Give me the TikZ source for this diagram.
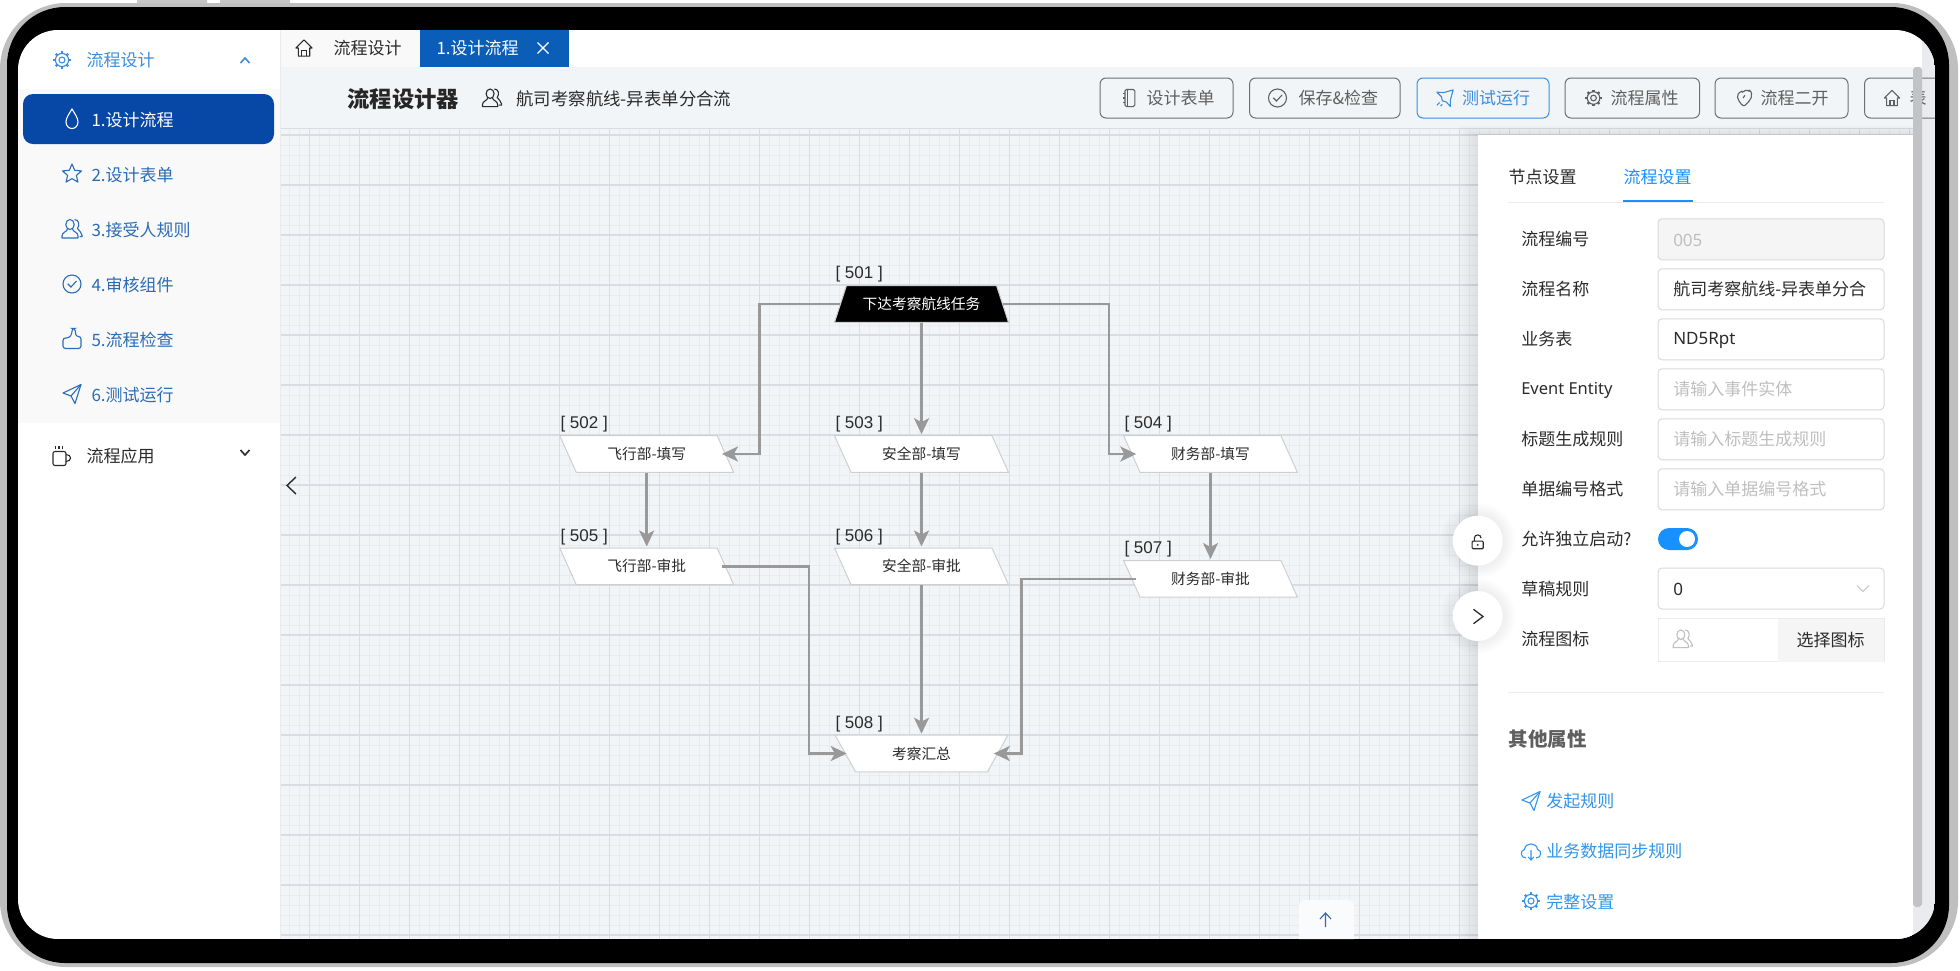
\documentclass[tikz,border=0pt]{standalone}
\usepackage{fontspec}
\usepackage{tikz}
\usetikzlibrary{shapes.geometric,arrows.meta}
\setmainfont{Noto Sans CJK SC}
\newfontfamily\tagfont{Liberation Sans}
\newfontfamily\latinfont{Noto Sans}
\definecolor{canvasbg}{HTML}{F2F5F7}
\definecolor{gridmajor}{HTML}{D9DDE1}
\definecolor{gridminor}{HTML}{E9ECEF}
\definecolor{flowgrey}{HTML}{999999}
\definecolor{nodeline}{HTML}{CDD0D3}
\definecolor{menublue}{HTML}{2B6CB5}
\definecolor{headblue}{HTML}{3B8DE0}
\definecolor{activeblue}{HTML}{0747A6}
\definecolor{tabblue}{HTML}{0A5EB8}
\definecolor{antblue}{HTML}{1890FF}
\definecolor{linkblue}{HTML}{3296EA}
\definecolor{inkdark}{HTML}{2B2B2B}
\definecolor{inkgrey}{HTML}{5F5F5F}
\definecolor{holdgrey}{HTML}{BFBFBF}
\definecolor{fieldline}{HTML}{D9D9D9}
\definecolor{menubg}{HTML}{F9F9FA}
\definecolor{thumbgrey}{HTML}{C1C3C6}
\definecolor{trackgrey}{HTML}{E9EBEE}
\tikzset{
	pics/gearicon/.style={code={
		\draw (0,0) circle (3);
		\draw (0,0) circle (6.6);
		\foreach \a in {0,45,...,315} \draw[line width=2.2pt] (\a:6.6) -- (\a:8.8);
	}},
	pics/dropicon/.style={code={
		\draw (0,-10) .. controls (3,-5) and (6,-1) .. (6,3) .. controls (6,7) and (3,9.5) .. (0,9.5) .. controls (-3,9.5) and (-6,7) .. (-6,3) .. controls (-6,-1) and (-3,-5) .. (0,-10) -- cycle;
	}},
	pics/staricon/.style={code={
		\draw[line join=round] (-90:10)--(-54:4.6)--(-18:10)--(18:4.6)--(54:10)--(90:4.6)--(126:10)--(162:4.6)--(198:10)--(234:4.6)--cycle;
	}},
	pics/usersicon/.style={code={
		\draw (-2,-4.5) ellipse (4.2 and 5);
		\draw[line join=round] (-4.5,0) .. controls (-5,3) and (-10,3) .. (-10,7) -- (-10,9) -- (6,9) -- (6,7) .. controls (6,3) and (1,3) .. (.5,0);
		\draw (2.5,-9.5) .. controls (7,-9.5) and (8,-4) .. (5.5,-.5) .. controls (6.5,2.5) and (10,2.5) .. (10,6) -- (10,7.5) -- (7.5,7.5);
	}},
	pics/checkicon/.style={code={
		\draw (0,0) circle (9);
		\draw (-4.2,-.2) -- (-1,3) -- (4.5,-3);
	}},
	pics/thumbicon/.style={code={
		\draw[rounded corners=2.5pt] (-9,9.5) -- (-9,-1) -- (-3,-1) -- (0,-5) -- (0,-10.5) -- (3,-10.5) -- (4,-2.5) -- (9,-2.5) -- (9,9.5) -- cycle;
	}},
	pics/sendicon/.style={code={
		\draw[line join=round] (-9,-1) -- (9,-9.5) -- (3,9.5) -- (-1,2) -- cycle;
		\draw (-1,2) -- (9,-9.5);
	}},
	pics/cupicon/.style={code={
		\draw[rounded corners=2pt] (-9,-4.5) rectangle (4,9.5);
		\draw (4,-1.5) .. controls (10,-1.5) and (10,5.5) .. (4,5.5);
		\draw (-6.5,-10) -- (-6.5,-7) (-3,-10) -- (-3,-7) (.5,-10) -- (.5,-7);
	}},
	pics/homeicon/.style={code={
		\draw[line join=round] (-8.5,0) -- (0,-8.5) -- (8.5,0) -- (6,0) -- (6,8.5) -- (-6,8.5) -- (-6,0) -- cycle;
		\draw (-2.2,8.5) -- (-2.2,3) -- (2.2,3) -- (2.2,8.5);
	}},
	pics/bookicon/.style={code={
		\draw[rounded corners=1.5pt] (-4.5,-9.5) rectangle (6.5,9.5);
		\draw (-2,-9.5) -- (-2,9.5);
		\draw (-7,-5) -- (-4.5,-5) (-7,0) -- (-4.5,0) (-7,5) -- (-4.5,5);
	}},
	pics/rocketicon/.style={code={
		\draw[line join=round] (9,-9) -- (-1.5,-6) -- (-9,-6.5) -- (-4,-1.5) -- (-3,3) -- (1.5,4.5) -- (6,9.5) -- (6,2) -- cycle;
		\draw (-6,5) -- (-9,8) (-3,7) -- (-5,9);
	}},
	pics/handicon/.style={code={
		\draw[line join=round,rounded corners=2pt] (-8,-3) -- (-3,-8) -- (-1,-6) -- (2,-9.5) -- (5,-7) -- (7,-9) -- (9,-3) -- (7,2) -- (0,9.5) -- (-5,5) -- cycle;
		\draw (1,-3) -- (-1,0);
	}},
	pics/cloudicon/.style={code={
		\draw[line join=round] (-5,7) .. controls (-11,7) and (-11,-1) .. (-6.5,-1.5) .. controls (-6,-9) and (6,-9) .. (6.5,-1.5) .. controls (11,-1) and (11,7) .. (5,7);
		\draw (0,-1) -- (0,9) (-2.8,6) -- (0,9) -- (2.8,6);
	}},
	pics/lockicon/.style={code={
		\draw[rounded corners=1pt] (-6.5,-.5) rectangle (6.5,8.5);
		\draw (-4,-.5) -- (-4,-4) .. controls (-4,-9) and (4,-9) .. (4,-4);
		\fill (0,4) circle (1.2);
	}}
}
\begin{document}
\begin{tikzpicture}[x=1pt,y=-1pt,line width=1.1pt]
	\tikzstyle{ui}=[inner sep=0,anchor=west,font=\fontsize{17}{20}\selectfont]
	\tikzstyle{tag}=[ui,text=inkdark,font=\fontsize{17}{20}\selectfont\tagfont]
	\tikzstyle{task}=[trapezium,trapezium stretches=true,trapezium left angle=124,trapezium right angle=56,minimum width=174pt,minimum height=36.6pt,inner sep=0,draw=nodeline,fill=white,line width=1pt,text=inkdark,font=\fontsize{14.7}{18}\selectfont]
	\tikzstyle{start}=[task,trapezium left angle=56,fill=black,text=white]
	\tikzstyle{merge}=[task,trapezium right angle=124]
	\tikzstyle{flow}=[draw=flowgrey,line width=2.6pt,shorten >=1pt,-{Stealth[length=16pt,width=15pt,inset=4pt]}]
	\tikzstyle{btnbox}=[rounded corners=6pt,draw=inkgrey!90,minimum height=40pt,inner sep=0,line width=1pt]
	\tikzstyle{field}=[rounded corners=4pt,draw=fieldline,fill=white,minimum width=226pt,minimum height=41pt,inner sep=0,line width=1pt]
	\tikzstyle{floatbtn}=[circle,fill=white,minimum size=50pt,inner sep=0]
	\useasboundingbox (0,0) rectangle (1960,970);
	% device frame
	\fill[black!22] (137,0) rectangle (207,5) (220,0) rectangle (290,5);
	\fill[black!25,rounded corners=66pt] (0,3) rectangle (1958,967);
	\fill[black,rounded corners=58pt] (7,7) rectangle (1949,963);
	\begin{scope}
		\clip[rounded corners=40pt] (18,30) rectangle (1935,939);
		\fill[white] (18,30) rectangle (1935,939);
		% scrollbar
		\fill[trackgrey] (1922,30) rectangle (1935,939);
		\fill[trackgrey] (1913,907) rectangle (1922,939);
		% side menu
		\fill[menubg] (18,89) rectangle (280,423);
		\draw[trackgrey,line width=.8pt] (280.5,30) -- (280.5,939);
		\node[rounded corners=10pt,fill=activeblue,minimum width=251pt,minimum height=50pt,inner sep=0](activeitem) at (148.5,119){};
		\pic[color=headblue] at (62,60) {gearicon};
		\node[ui,text=headblue](menuhead) at (86,60){流程设计};
		\draw[headblue,line width=1.6pt] (240.5,63) -- (245,58) -- (249.5,63);
		\pic[color=white] at (72,119) {dropicon};
		\node[ui,text=white](item1) at (91,120){1.设计流程};
		\pic[color=menublue] at (72,174) {staricon};
		\node[ui,text=menublue](item2) at (91,175){2.设计表单};
		\pic[color=menublue] at (72,229) {usersicon};
		\node[ui,text=menublue](item3) at (91,230){3.接受人规则};
		\pic[color=menublue] at (72,284) {checkicon};
		\node[ui,text=menublue](item4) at (91,285){4.审核组件};
		\pic[color=menublue] at (72,339) {thumbicon};
		\node[ui,text=menublue](item5) at (91,340){5.流程检查};
		\pic[color=menublue] at (72,394) {sendicon};
		\node[ui,text=menublue](item6) at (91,395){6.测试运行};
		\pic[color=inkdark] at (62,456) {cupicon};
		\node[ui,text=inkdark](menuapp) at (86,456){流程应用};
		\draw[inkdark,line width=1.6pt] (240.5,450) -- (245,455) -- (249.5,450);
		% tabs
		\fill[menubg] (281,30) rectangle (420,67);
		\fill[tabblue] (420,30) rectangle (569,67);
		\pic[color=inkdark,scale=.95] at (304,48) {homeicon};
		\node[ui,text=inkdark](tabhome) at (333,48){流程设计};
		\node[ui,text=white](tabflow) at (436,48){1.设计流程};
		\draw[white] (537.5,42.5) -- (548.5,53.5) (548.5,42.5) -- (537.5,53.5);
		% toolbar
		\fill[canvasbg] (281,67) rectangle (1913,128);
		\node[ui,text=black!85,font=\fontsize{22.3}{26}\selectfont\bfseries](title) at (347,99){流程设计器};
		\pic[color=inkdark,scale=.95] at (492,98) {usersicon};
		\node[ui,text=inkdark,font=\fontsize{17.4}{20}\selectfont](flowname) at (516,99){航司考察航线-异表单分合流};
		\node[btnbox,minimum width=133pt](btn1) at (1166.5,98){};
		\pic[color=inkgrey,scale=.9] at (1129,98) {bookicon};
		\node[ui,text=inkgrey](btntext1) at (1146,98){设计表单};
		\node[btnbox,minimum width=150.5pt](btn2) at (1324.8,98){};
		\pic[color=inkgrey] at (1277.5,98) {checkicon};
		\node[ui,text=inkgrey](btntext2) at (1298,98){保存\&检查};
		\node[btnbox,draw=headblue,minimum width=132pt](btn3) at (1483,98){};
		\pic[color=headblue,scale=.9] at (1445,98) {rocketicon};
		\node[ui,text=headblue](btntext3) at (1461.6,98){测试运行};
		\node[btnbox,minimum width=134.5pt](btn4) at (1632.3,98){};
		\pic[color=inkgrey,scale=.95] at (1593.5,98) {gearicon};
		\node[ui,text=inkgrey](btntext4) at (1610,98){流程属性};
		\node[btnbox,minimum width=133pt](btn5) at (1781.5,98){};
		\pic[color=inkgrey,scale=.9] at (1744,98) {handicon};
		\node[ui,text=inkgrey](btntext5) at (1760,98){流程二开};
		\node[btnbox,minimum width=100pt](btn6) at (1914.5,98){};
		\pic[color=inkgrey,scale=.9] at (1892,98) {homeicon};
		\node[ui,text=inkgrey](btntext6) at (1909,98){表};
		% canvas
		\fill[canvasbg] (281,128) rectangle (1913,939);
		\draw[gridmajor,line width=.8pt] (281,128) -- (1913,128);
		\foreach \k in {0,...,163} \draw[gridminor,line width=.8pt] ({289.6+10*\k},129) -- ({289.6+10*\k},939);
		\foreach \k in {0,...,81} \draw[gridminor,line width=.8pt] (281,{135+10*\k}) -- (1913,{135+10*\k});
		\foreach \k in {0,...,32} \draw[gridmajor,line width=1.5pt] ({309.6+50*\k},129) -- ({309.6+50*\k},939);
		\foreach \k in {0,...,16} \draw[gridmajor,line width=1.5pt] (281,{135+50*\k}) -- (1913,{135+50*\k});
		\draw[inkdark,line width=1.4pt] (296,477) -- (287,485.5) -- (296,494);
		% flow nodes
		\node[start](n501) at (921.5,304){下达考察航线任务};
		\node[task](n502) at (646.7,454){飞行部-填写};
		\node[task](n503) at (921.5,454){安全部-填写};
		\node[task](n504) at (1210.5,454){财务部-填写};
		\node[task](n505) at (646.7,566.3){飞行部-审批};
		\node[task](n506) at (921.5,566.3){安全部-审批};
		\node[task](n507) at (1210.5,578.8){财务部-审批};
		\node[merge](n508) at (921.5,753.5){考察汇总};
		\node[tag](t501) at (835,274){[ 501 ]};
		\node[tag](t502) at (560,424){[ 502 ]};
		\node[tag](t503) at (835,424){[ 503 ]};
		\node[tag](t504) at (1124,424){[ 504 ]};
		\node[tag](t505) at (560,537){[ 505 ]};
		\node[tag](t506) at (835,537){[ 506 ]};
		\node[tag](t507) at (1124,549){[ 507 ]};
		\node[tag](t508) at (835,724){[ 508 ]};
		\coordinate (c502) at (759.4,304);
		\coordinate (c504) at (1109,304);
		\coordinate (c505) at (809,566.3);
		\coordinate (c507) at (1021.6,578.8);
		\draw[flow,shorten >=-4pt] (n501.left side) -- (c502) |- (n502.right side);
		\draw[flow] (n501.south) -- (n503.north);
		\draw[flow,shorten >=-5pt] (n501.right side) -- (c504) |- (n504.left side);
		\draw[flow] (n502.south) -- (n505.north);
		\draw[flow] (n503.south) -- (n506.north);
		\draw[flow] (n504.south) -- (n507.north);
		\draw[flow,shorten <=-4pt,shorten >=-2pt] (n505.right side) -- (c505) |- (n508.left side);
		\draw[flow] (n506.south) -- (n508.north);
		\draw[flow,shorten <=-5pt,shorten >=-4.5pt] (n507.left side) -- (c507) |- (n508.right side);
		% back to top
		\fill[white!60!canvasbg,rounded corners=6pt] (1299,900) rectangle (1354,950);
		\draw[menublue,line width=1.1pt] (1325.5,927) -- (1325.5,913) (1320,919) -- (1325.5,913) -- (1331,919);
		% settings panel
		\foreach \i in {1,...,10}
			\fill[black,opacity=.006] ({1478-2*\i},{135-\i}) rectangle (1913,939);
		\fill[white] (1478,135) rectangle (1913,939);
		\fill[thumbgrey,rounded corners=3pt] (1913,67) rectangle (1922,907);
		\node[ui,text=inkdark](tabnode) at (1508,176.7){节点设置};
		\node[ui,text=antblue](tabset) at (1623,176.7){流程设置};
		\draw[black!8,line width=1pt] (1508,202) -- (1884,202);
		\draw[antblue,line width=2.5pt] (1623,201) -- (1693,201);
		\foreach \i/\t in {1/流程编号,2/流程名称,3/业务表,5/标题生成规则,6/单据编号格式}
			\node[ui,text=inkdark](lab\i) at (1520.7,{189.3+50*\i}){\t};
		\node[ui,text=inkdark,font=\fontsize{16.5}{20}\selectfont\latinfont](lab4) at (1520.7,390.5){Event Entity};
		\node[field,fill=black!4](val1) at (1771,239.3){};
		\node[ui,text=holdgrey,font=\fontsize{17}{20}\selectfont\latinfont](txt1) at (1672.7,240){005};
		\node[field](val2) at (1771,289.3){};
		\node[ui,text=inkdark](txt2) at (1672.7,289.3){航司考察航线-异表单分合};
		\node[field](val3) at (1771,339.3){};
		\node[ui,text=inkdark,font=\fontsize{17}{20}\selectfont\latinfont](txt3) at (1672.7,340){ND5Rpt};
		\node[field](val4) at (1771,389.3){};
		\node[ui,text=holdgrey](txt4) at (1672.7,389.3){请输入事件实体};
		\node[field](val5) at (1771,439.3){};
		\node[ui,text=holdgrey](txt5) at (1672.7,439.3){请输入标题生成规则};
		\node[field](val6) at (1771,489.3){};
		\node[ui,text=holdgrey](txt6) at (1672.7,489.3){请输入单据编号格式};
		\node[ui,text=inkdark](lab7) at (1520.7,539.3){允许独立启动?};
		\node[rounded corners=11pt,fill=antblue,minimum width=40pt,minimum height=22pt,inner sep=0](toggle) at (1678,539){};
		\node[circle,fill=white,minimum size=16pt,inner sep=0](knob) at (1687,539){};
		\node[ui,text=inkdark](lab8) at (1520.7,589.3){草稿规则};
		\node[field](val8) at (1771,588.5){};
		\node[ui,text=inkdark,font=\fontsize{17}{20}\selectfont\latinfont](txt8) at (1672.7,589.3){0};
		\draw[holdgrey,line width=1pt] (1857,585.5) -- (1863,591.5) -- (1869,585.5);
		\node[ui,text=inkdark](lab9) at (1520.7,639.3){流程图标};
		\node[draw=black!8,fill=white,minimum width=226pt,minimum height=43.5pt,inner sep=0,line width=1pt](val9) at (1771,640){};
		\fill[black!4] (1778,618.5) rectangle (1883.5,661.5);
		\pic[color=holdgrey,scale=.95] at (1682.7,639) {usersicon};
		\node[ui,text=inkdark](txt9) at (1796,640){选择图标};
		\draw[black!8,line width=1pt] (1508,692.3) -- (1884,692.3);
		\node[ui,text=inkgrey,font=\fontsize{19.5}{24}\selectfont\bfseries](other) at (1508,739.3){其他属性};
		\pic[color=linkblue] at (1531,801) {sendicon};
		\node[ui,text=linkblue](link1) at (1545.7,801.5){发起规则};
		\pic[color=linkblue] at (1531,851) {cloudicon};
		\node[ui,text=linkblue](link2) at (1545.7,851.5){业务数据同步规则};
		\pic[color=linkblue] at (1531,901) {gearicon};
		\node[ui,text=linkblue](link3) at (1545.7,901.5){完整设置};
		% floating buttons
		\foreach \i in {1,...,8}
			\fill[black,opacity=.006] (1477.7,540.7) circle ({25+1.6*\i}) (1477.7,616) circle ({25+1.6*\i});
		\node[floatbtn](lockbtn) at (1477.7,540.7){};
		\pic[color=inkdark,scale=.85] at (1477.7,541.5) {lockicon};
		\node[floatbtn](foldbtn) at (1477.7,616){};
		\draw[inkdark,line width=1.3pt] (1473.5,609.3) -- (1483,616.5) -- (1473.5,623.7);
	\end{scope}
\end{tikzpicture}
\end{document}
